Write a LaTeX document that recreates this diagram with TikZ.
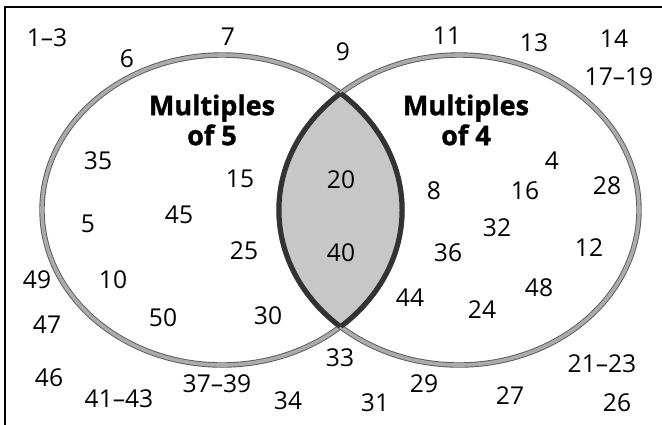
\documentclass[tikz,border=0pt]{standalone}
\usepackage{fontspec}
\setmainfont{Open Sans}
\newfontfamily\titlefont{Open Sans}[BoldFeatures={FakeBold=1.3}]
\usetikzlibrary{positioning}

\begin{document}
\begin{tikzpicture}[
    x=0.5pt, y=-0.5pt,
    num/.style={font=\fontsize{12.3}{14}\selectfont, inner sep=0pt},
    settitle/.style={font=\fontsize{13.5}{15}\selectfont\titlefont\bfseries, align=center, inner sep=0pt},
    setring/.style={draw=black!65, line width=0.45pt, double=black!33, double distance=1.8pt},
    lensfill/.style={fill=black!22},
    lensline/.style={draw=black!80, line width=2.5pt},
    frame/.style={draw=black, line width=1pt},
  ]
    \clip (0,0) rectangle (662,424);
    \draw[frame] (5,7) rectangle (700,460);
    % the two sets
    \coordinate (five) at (222,210);
    \coordinate (four) at (459,210);
    \draw[setring] (five) ellipse [x radius=90pt, y radius=77.5pt];
    \draw[setring] (four) ellipse [x radius=90pt, y radius=77.5pt];
    % common part
    \begin{scope}
      \clip (five) ellipse [x radius=90pt, y radius=77.5pt];
      \fill[lensfill] (four) ellipse [x radius=90pt, y radius=77.5pt];
      \draw[lensline] (four) ellipse [x radius=90pt, y radius=77.5pt];
    \end{scope}
    \begin{scope}
      \clip (four) ellipse [x radius=90pt, y radius=77.5pt];
      \draw[lensline] (five) ellipse [x radius=90pt, y radius=77.5pt];
    \end{scope}
    \node[settitle] (titlefive) at (212,120) {Multiples\\of 5};
    \node[settitle] (titlefour) at (466,120) {Multiples\\of 4};
    % numbers
    \foreach \t/\px/\py [count=\i] in {1--3/47/38, 6/127/59, 7/228/37, 9/343/52,
        11/447/36, 13/534/43, 14/614/39, 17--19/619/77, 49/37/280, 47/47/325,
        46/49/378, 41--43/119/399, 37--39/217/384, 34/288/401, 33/340/358,
        31/375/403, 29/424/384, 27/510/396, 21--23/602/364, 26/617/403}
      \node[num] (out\i) at (\px,\py) {\t};
    \foreach \t/\px/\py [count=\i] in {35/98/161, 15/240/179, 5/88/224, 45/179/215,
        25/244/251, 10/113/280, 50/163/318, 30/268/316}
      \node[num] (five\i) at (\px,\py) {\t};
    \foreach \t/\px/\py [count=\i] in {20/341/180, 40/341/253}
      \node[num] (both\i) at (\px,\py) {\t};
    \foreach \t/\px/\py [count=\i] in {4/552/161, 8/434/191, 16/525/191, 28/607/186,
        32/497/228, 36/448/253, 12/589/248, 44/410/298, 24/482/310, 48/539/288}
      \node[num] (four\i) at (\px,\py) {\t};
  \end{tikzpicture}
\end{document}
